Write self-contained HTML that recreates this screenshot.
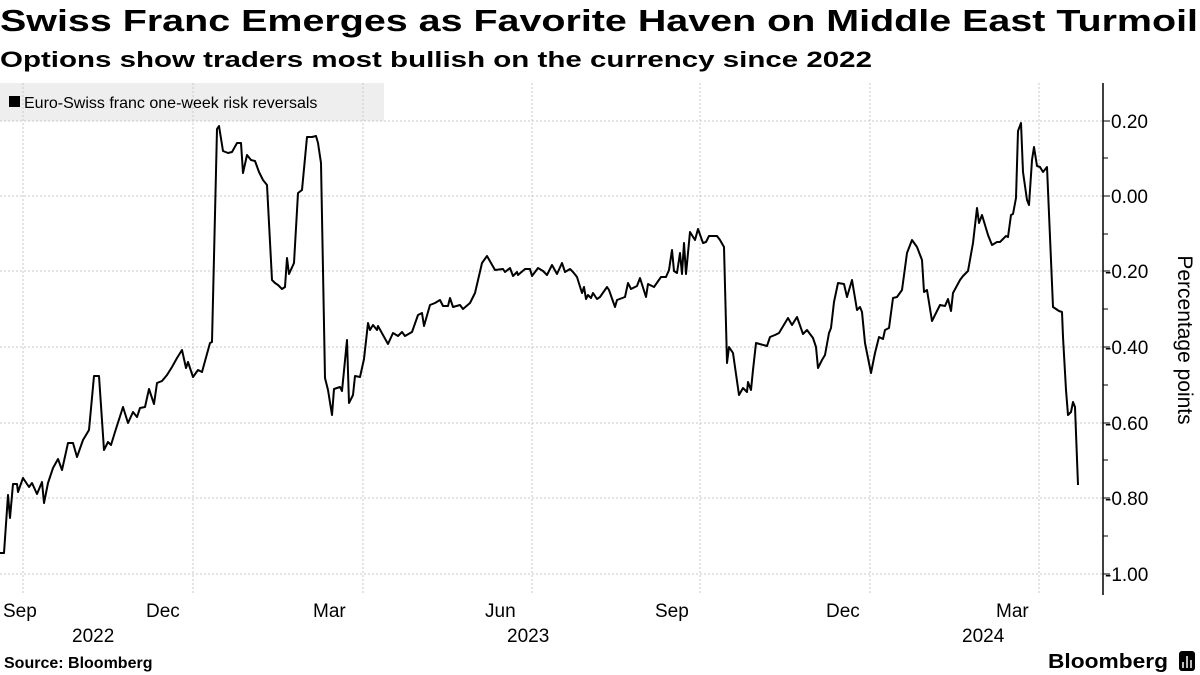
<!DOCTYPE html>
<html><head><meta charset="utf-8"><style>
body{margin:0;width:1200px;height:675px;background:#fff;overflow:hidden;font-family:"Liberation Sans",sans-serif;}
</style></head><body>
<svg width="1200" height="675" xmlns="http://www.w3.org/2000/svg" style="position:absolute;left:0;top:0">
<text x="0" y="31" font-family="Liberation Sans" font-weight="bold" font-size="31" fill="#000" textLength="1198" lengthAdjust="spacingAndGlyphs">Swiss Franc Emerges as Favorite Haven on Middle East Turmoil</text>
<text x="0" y="67" font-family="Liberation Sans" font-weight="bold" font-size="22" fill="#000" textLength="872" lengthAdjust="spacingAndGlyphs">Options show traders most bullish on the currency since 2022</text>
<rect x="0" y="83" width="384" height="38" fill="#eeeeee"/>
<g stroke="#c8c8c8" stroke-width="1" stroke-dasharray="2,2">
<line x1="0" y1="121" x2="1103" y2="121"/><line x1="0" y1="196" x2="1103" y2="196"/>
<line x1="0" y1="271" x2="1103" y2="271"/><line x1="0" y1="347" x2="1103" y2="347"/>
<line x1="0" y1="423" x2="1103" y2="423"/><line x1="0" y1="498" x2="1103" y2="498"/>
<line x1="0" y1="574" x2="1103" y2="574"/>
<line x1="23" y1="83" x2="23" y2="595"/><line x1="193" y1="83" x2="193" y2="595"/>
<line x1="363" y1="83" x2="363" y2="595"/><line x1="532" y1="83" x2="532" y2="595"/>
<line x1="700" y1="83" x2="700" y2="595"/><line x1="870" y1="83" x2="870" y2="595"/>
<line x1="1039" y1="83" x2="1039" y2="595"/>
</g>
<rect x="9" y="96" width="11" height="11" fill="#000"/>
<text x="24" y="108" font-size="16" fill="#000">Euro-Swiss franc one-week risk reversals</text>
<line x1="1103" y1="83" x2="1103" y2="595" stroke="#000" stroke-width="1.5"/>
<g stroke="#000" stroke-width="1">
<line x1="1103" y1="121" x2="1110" y2="121"/><line x1="1103" y1="196" x2="1110" y2="196"/>
<line x1="1103" y1="271" x2="1110" y2="271"/><line x1="1103" y1="347" x2="1110" y2="347"/>
<line x1="1103" y1="423" x2="1110" y2="423"/><line x1="1103" y1="498" x2="1110" y2="498"/>
<line x1="1103" y1="574" x2="1110" y2="574"/>
<line x1="1103" y1="158" x2="1108" y2="158"/><line x1="1103" y1="234" x2="1108" y2="234"/>
<line x1="1103" y1="309" x2="1108" y2="309"/><line x1="1103" y1="385" x2="1108" y2="385"/>
<line x1="1103" y1="460" x2="1108" y2="460"/><line x1="1103" y1="536" x2="1108" y2="536"/>
</g>
<g font-size="19" fill="#000">
<text x="1111" y="128">0.20</text><text x="1111" y="203">0.00</text>
<text x="1105" y="278">-0.20</text><text x="1105" y="354">-0.40</text>
<text x="1105" y="430">-0.60</text><text x="1105" y="505">-0.80</text>
<text x="1105" y="581">-1.00</text>
</g>
<text transform="translate(1178,340) rotate(90)" text-anchor="middle" font-size="21" fill="#000">Percentage points</text>
<g font-size="19" fill="#000">
<text x="3" y="617">Sep</text><text x="146" y="617">Dec</text><text x="313" y="617">Mar</text>
<text x="485" y="617">Jun</text><text x="655" y="617">Sep</text><text x="826" y="617">Dec</text>
<text x="996" y="617">Mar</text>
<text x="72" y="642">2022</text><text x="507" y="642">2023</text><text x="962" y="642">2024</text>
</g>
<text x="4" y="668" font-size="16" font-weight="bold" fill="#000">Source: Bloomberg</text>
<text x="1048" y="668" font-size="20" font-weight="bold" fill="#000" textLength="120" lengthAdjust="spacingAndGlyphs">Bloomberg</text>
<rect x="1179" y="651" width="16" height="20" rx="3" fill="#000"/>
<g stroke="#fff" stroke-width="1.5"><line x1="1183" y1="668" x2="1183" y2="662"/><line x1="1187" y1="668" x2="1187" y2="656"/><line x1="1191" y1="668" x2="1191" y2="660"/></g>
<polyline fill="none" stroke="#000" stroke-width="2" stroke-linejoin="round" points="0,553 4,553 8,495 10,518 13,484 17,484 18,492 23,478 29,487 32,483 37,494 42,482 44,503 48,483 53,468 58,459 62,470 68,443 73,443 77,457 83,440 89,430 94,376 99,376 104,450 108,442 111,445 115,432 123,407 128,423 133,412 137,417 140,408 145,407 149,389 154,404 157,383 162,381 167,375 172,367 177,358 182,350 186,368 188,362 193,377 198,370 202,372 210,343 212,342 217,129 219,126 223,151 228,153 232,152 237,143 241,143 243,173 247,155 251,160 255,161 259,172 263,180 267,185 272,280 275,283 278,285 282,289 285,287 287,258 289,274 294,263 298,193 302,190 307,137 312,137 316,136 318,143 321,163 325,378 328,390 332,415 334,389 340,387 342,391 347,340 349,403 353,395 355,376 360,377 364,359 368,323 370,330 373,325 377,330 378,326 388,344 393,333 398,336 402,332 405,336 412,332 418,315 422,313 424,326 430,305 435,303 440,300 443,306 448,306 450,298 453,307 460,305 463,309 470,303 475,293 482,263 487,256 495,270 503,269 505,272 510,268 513,276 517,272 518,275 525,269 530,269 532,276 538,268 543,271 547,275 552,265 557,274 562,263 565,272 570,269 573,272 577,277 582,293 584,287 586,299 588,295 591,298 593,293 597,299 600,297 607,287 609,290 615,307 617,300 625,297 628,283 631,289 637,286 640,278 646,297 648,284 654,287 661,277 666,277 669,270 672,250 674,271 677,273 680,253 682,274 684,243 686,274 690,232 695,240 698,229 703,243 706,242 709,236 717,236 720,240 724,247 727,363 729,347 733,353 739,395 743,388 747,392 748,382 751,390 753,370 756,343 767,346 770,337 775,335 779,333 788,318 792,325 797,317 803,334 807,330 813,338 816,347 818,368 822,360 825,355 829,333 831,328 834,302 838,283 844,284 847,297 852,280 857,310 860,307 862,312 865,343 867,353 871,373 875,353 879,337 883,339 885,330 889,328 893,298 897,297 902,290 907,253 912,240 917,247 922,260 924,292 927,290 932,321 940,305 945,306 948,299 951,311 953,293 960,280 963,276 968,271 973,243 977,208 979,223 982,215 988,235 992,245 997,242 1000,242 1006,236 1008,237 1011,215 1013,214 1016,198 1018,131 1021,123 1023,172 1027,200 1029,205 1032,160 1034,147 1037,166 1040,167 1043,172 1047,167 1053,307 1059,311 1062,312 1063,337 1066,390 1068,415 1071,412 1073,402 1075,407 1078,485"/>
</svg>
</body></html>
